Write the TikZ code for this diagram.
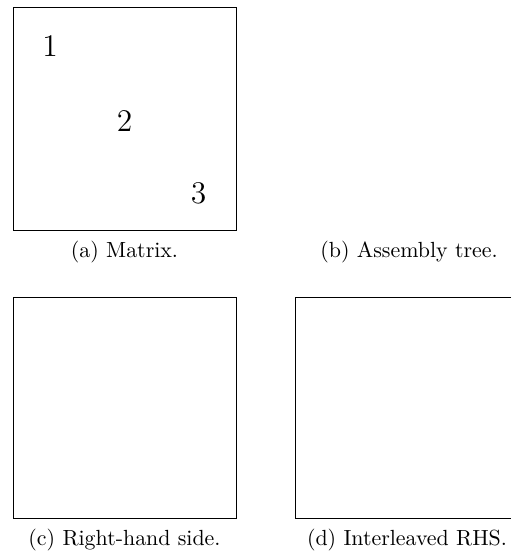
\documentclass[tikz,border=0pt]{standalone}
\begin{document}
\begin{tikzpicture}[x=0.4566pt,y=-0.4566pt,
  panel/.style={draw=black,line width=0.45pt},
  num/.style={font=\Large,inner sep=0pt},
  captext/.style={font=\normalsize,inner sep=0pt}]
\useasboundingbox (0,0) rectangle (511,554);
% (a) matrix
\draw[panel] (13,8) rectangle (236,230);
\node[num] (n1) at (50,46) {1};
\node[num] (n2) at (124.5,121) {2};
\node[num] (n3) at (198.5,193.5) {3};
\node[captext] (capa) at (124.5,252) {(a) Matrix.};
% (b) assembly tree
\node[captext] (capb) at (409,252) {(b) Assembly tree.};
% (c) right-hand side
\draw[panel] (13,297) rectangle (236,518);
\node[captext] (capc) at (124.5,540) {(c) Right-hand side.};
% (d) interleaved RHS (right edge outside the page)
\draw[panel] (511,297) -- (295,297) -- (295,518) -- (511,518);
\node[captext] (capd) at (407,540) {(d) Interleaved RHS.};
\end{tikzpicture}
\end{document}
